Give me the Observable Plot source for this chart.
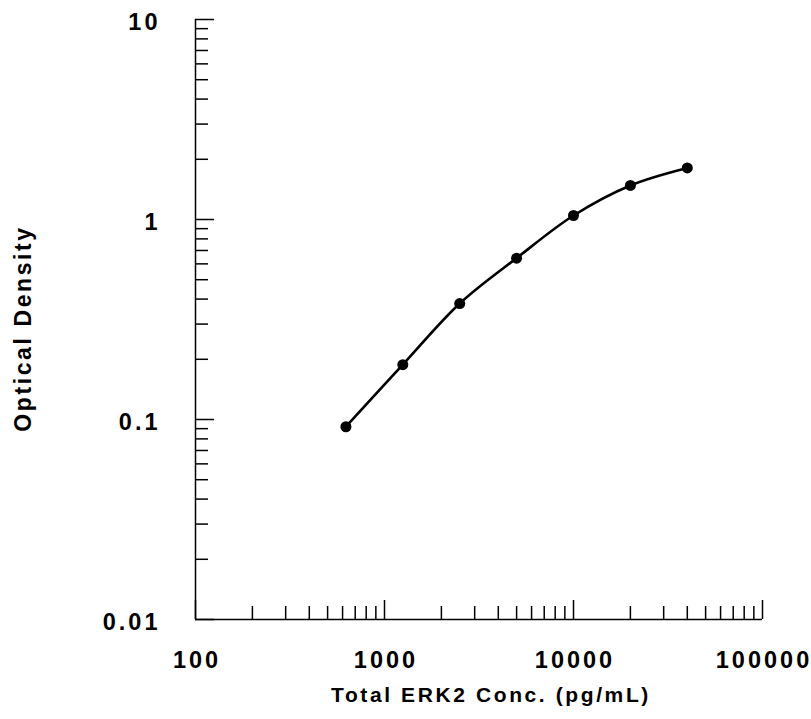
<!DOCTYPE html>
<html>
<head>
<meta charset="utf-8">
<script src="https://cdn.jsdelivr.net/npm/d3@7"></script>
<script src="https://cdn.jsdelivr.net/npm/@observablehq/plot@0.6"></script>
<style>
  html, body { margin: 0; padding: 0; background: #fff; }
  svg text { font-family: "Liberation Sans", Arial, sans-serif; font-weight: bold; }
  g[aria-label="y-axis tick label"] text, g[aria-label="x-axis tick label"] text { letter-spacing: 3px; }
  g.title text { letter-spacing: 2.6px; }
</style>
</head>
<body>
<div id="chart"></div>
<script>
// Data: Total ERK2 standard curve
const concentration = [625, 1250, 2500, 5000, 10000, 20000, 40000];
const opticalDensity = [0.092, 0.188, 0.380, 0.641, 1.047, 1.48, 1.81];

// Tick labels
const xMajorTicks = [100, 1000, 10000, 100000];
const yMajorTicks = [0.01, 0.1, 1, 10];
const minorMultipliers = [2, 3, 4, 5, 6, 7, 8, 9];
const xMinorTicks = [100, 1000, 10000].flatMap(d => minorMultipliers.map(k => k * d));
const yMinorTicks = [0.01, 0.1, 1].flatMap(d => minorMultipliers.map(k => +(k * d).toPrecision(3)));

const xTitle = "Total ERK2 Conc. (pg/mL)";
const yTitle = "Optical Density";

const data = concentration.map((c, i) => ({conc: c, od: opticalDensity[i]}));

const chart = Plot.plot({
  width: 811,
  height: 719,
  marginLeft: 195,
  marginRight: 49,
  marginTop: 19,
  marginBottom: 100,
  style: {background: "#fff", color: "#000", overflow: "visible"},
  x: {type: "log", domain: [100, 100000]},
  y: {type: "log", domain: [0.01, 10]},
  marks: [
    // axis lines
    Plot.ruleX([100], {stroke: "#000", strokeWidth: 1.5}),
    Plot.ruleY([0.01], {stroke: "#000", strokeWidth: 1.5}),
    // inward ticks, y
    Plot.axisY({ticks: yMajorTicks, tickSize: 19, dx: 19, tickFormat: () => "", label: null, strokeWidth: 1.5}),
    Plot.axisY({ticks: yMinorTicks, tickSize: 13, dx: 13, tickFormat: () => "", label: null, strokeWidth: 1.5}),
    Plot.axisY({ticks: yMajorTicks, tickSize: 0, tickPadding: 35, dy: 3, fontSize: 23.5, tickFormat: d => String(d), label: null}),
    // inward ticks, x
    Plot.axisX({ticks: xMajorTicks, tickSize: 19, dy: -19, tickFormat: () => "", label: null, strokeWidth: 1.5}),
    Plot.axisX({ticks: xMinorTicks, tickSize: 13, dy: -13, tickFormat: () => "", label: null, strokeWidth: 1.5}),
    Plot.axisX({ticks: xMajorTicks, tickSize: 0, tickPadding: 32, dx: 1.5, fontSize: 23.5, tickFormat: d => String(d), label: null}),
    // titles
    Plot.text([xTitle], {text: d => d, frameAnchor: "bottom", textAnchor: "middle", dx: 12, dy: 82, fontSize: 21, fontWeight: "bold", className: "title"}),
    Plot.text([yTitle], {text: d => d, frameAnchor: "left", textAnchor: "middle", rotate: -90, dx: -172, dy: 9, fontSize: 23, fontWeight: "bold", className: "title"}),
    // curve and points
    Plot.line(data, {x: "conc", y: "od", curve: "catmull-rom", stroke: "#000", strokeWidth: 2.6}),
    Plot.dot(data, {x: "conc", y: "od", r: 5.5, fill: "#000", stroke: "none"})
  ]
});
document.getElementById("chart").appendChild(chart);
</script>
</body>
</html>
